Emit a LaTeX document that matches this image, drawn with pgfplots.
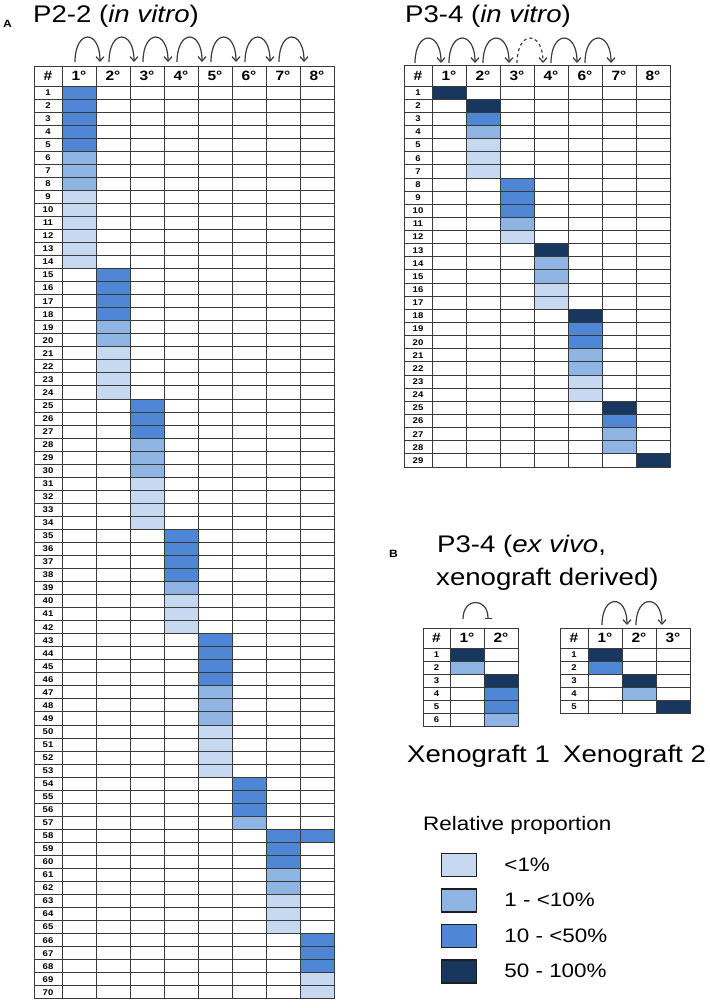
\documentclass[border=0pt]{standalone}
\usepackage{fontspec}
\setmainfont{Liberation Sans}[FakeStretch=1.15]
\usepackage{pgfplots}
\pgfplotsset{compat=1.18}
\usetikzlibrary{arrows.meta}
\definecolor{lvA}{HTML}{C6D9F1}
\definecolor{lvB}{HTML}{8DB4E2}
\definecolor{lvC}{HTML}{4F87D6}
\definecolor{lvD}{HTML}{17375E}
\definecolor{gridc}{HTML}{3A3A3A}
\definecolor{arcc}{HTML}{3C3C3C}
\definecolor{lgb}{HTML}{1E1E1E}
\newdimen\cellw \newdimen\cellh
\cellw=34pt \cellh=13.04pt
\pgfdeclareplotmark{cell}{%
  \pgfpathrectangle{\pgfpoint{-0.5\cellw}{-0.5\cellh}}{\pgfpoint{\cellw}{\cellh}}%
  \pgfusepathqfillstroke}
\pgfplotsset{
  tbl/.style={anchor=center, y dir=reverse, x=34pt, clip=false,
    axis line style={draw=gridc, line width=0.9pt},
    xtick={1,...,8}, xticklabels={{},{},{},{},{},{},{},{}},
    grid=minor, minor grid style={draw=gridc, line width=0.9pt},
    major tick length=0pt, minor tick length=0pt,
    /pgf/number format/assume math mode=true,
    yticklabel style={anchor=center, font=\bfseries\fontsize{8.3}{9}\selectfont, inner sep=0pt, text=black},
  },
  cell/.style={only marks, mark=cell, mark options={draw=gridc, line width=0.9pt, fill=#1}},
}
\tikzset{
  hdr/.style={font=\bfseries\fontsize{13.5}{14}\selectfont, inner sep=0pt},
  arcst/.style={draw=arcc, line width=1.2pt, -{Straight Barb[length=4.5pt,width=8pt]}},
  ttl/.style={anchor=base west, inner sep=0pt, font=\fontsize{24}{28}\selectfont},
}
\begin{document}
\begin{tikzpicture}
\path[use as bounding box] (0,0) rectangle (709pt,-1008pt);

% ---------- Left table: P2-2 (in vitro) ----------
\cellh=13.04pt
\begin{axis}[tbl, at={(184pt,-532.4pt)}, y=13.04pt,
  xmin=-0.3235, xmax=8.5, ymin=-1.034, ymax=70.5,
  ytick={1,...,70}, minor ytick={0.5,1.5,...,69.5}, minor xtick={0.5,1.5,...,7.5},
  yticklabel style={xshift=14pt}]
\addplot[cell=lvC] coordinates {(1,1)(1,2)(1,3)(1,4)(1,5) (2,15)(2,16)(2,17)(2,18) (3,25)(3,26)(3,27)
  (4,35)(4,36)(4,37)(4,38) (5,43)(5,44)(5,45)(5,46) (6,54)(6,55)(6,56) (7,58)(7,59)(7,60)
  (8,58)(8,66)(8,67)(8,68)};
\addplot[cell=lvB] coordinates {(1,6)(1,7)(1,8) (2,19)(2,20) (3,28)(3,29)(3,30) (4,39)
  (5,47)(5,48)(5,49) (6,57) (7,61)(7,62)};
\addplot[cell=lvA] coordinates {(1,9)(1,10)(1,11)(1,12)(1,13)(1,14) (2,21)(2,22)(2,23)(2,24)
  (3,31)(3,32)(3,33)(3,34) (4,40)(4,41)(4,42) (5,50)(5,51)(5,52)(5,53) (7,63)(7,64)(7,65)
  (8,69)(8,70)};
\node[hdr] at (axis cs:0.088,-0.267) {\#};
\node[hdr] at (axis cs:1,-0.267) {1°};
\node[hdr] at (axis cs:2,-0.267) {2°};
\node[hdr] at (axis cs:3,-0.267) {3°};
\node[hdr] at (axis cs:4,-0.267) {4°};
\node[hdr] at (axis cs:5,-0.267) {5°};
\node[hdr] at (axis cs:6,-0.267) {6°};
\node[hdr] at (axis cs:7,-0.267) {7°};
\node[hdr] at (axis cs:8,-0.267) {8°};
\end{axis}

% ---------- Right table: P3-4 (in vitro) ----------
\cellh=13.14pt
\begin{axis}[tbl, at={(537pt,-266pt)}, y=13.14pt,
  xmin=-0.3235, xmax=7.5, ymin=-1.098, ymax=29.5,
  ytick={1,...,29}, minor ytick={0.5,1.5,...,28.5}, minor xtick={0.5,1.5,...,6.5},
  xtick={1,...,7}, yticklabel style={xshift=14pt}]
\addplot[cell=lvD] coordinates {(1,1)(2,2)(4,13)(5,18)(6,25)(7,29)};
\addplot[cell=lvC] coordinates {(2,3)(3,8)(3,9)(3,10)(5,19)(5,20)(6,26)};
\addplot[cell=lvB] coordinates {(2,4)(3,11)(4,14)(4,15)(5,21)(5,22)(6,27)(6,28)};
\addplot[cell=lvA] coordinates {(2,5)(2,6)(2,7)(3,12)(4,16)(4,17)(5,23)(5,24)};
\node[hdr] at (axis cs:0.088,-0.299) {\#};
\node[hdr] at (axis cs:1,-0.299) {1°};
\node[hdr] at (axis cs:2,-0.299) {2°};
\node[hdr] at (axis cs:3,-0.299) {3°};
\node[hdr] at (axis cs:4,-0.299) {4°};
\node[hdr] at (axis cs:5,-0.299) {6°};
\node[hdr] at (axis cs:6,-0.299) {7°};
\node[hdr] at (axis cs:7,-0.299) {8°};
\end{axis}

% ---------- Xenograft 1 ----------
\cellh=13pt
\begin{axis}[tbl, at={(470.5pt,-677pt)}, y=13pt,
  xmin=-0.294, xmax=2.5, ymin=-1.038, ymax=6.5,
  ytick={1,...,6}, minor ytick={0.5,1.5,...,5.5}, minor xtick={0.5,1.5},
  xtick={1,2}, yticklabel style={xshift=13.5pt}]
\addplot[cell=lvD] coordinates {(1,1)(2,3)};
\addplot[cell=lvC] coordinates {(2,4)(2,5)};
\addplot[cell=lvB] coordinates {(1,2)(2,6)};
\node[hdr] at (axis cs:0.103,-0.269) {\#};
\node[hdr] at (axis cs:1,-0.269) {1°};
\node[hdr] at (axis cs:2,-0.269) {2°};
\end{axis}

% ---------- Xenograft 2 ----------
\begin{axis}[tbl, at={(625pt,-670.5pt)}, y=13pt,
  xmin=-0.3235, xmax=3.5, ymin=-1.038, ymax=5.5,
  ytick={1,...,5}, minor ytick={0.5,1.5,...,4.5}, minor xtick={0.5,1.5,2.5},
  xtick={1,2,3}, yticklabel style={xshift=14pt}]
\addplot[cell=lvD] coordinates {(1,1)(2,3)(3,5)};
\addplot[cell=lvC] coordinates {(1,2)};
\addplot[cell=lvB] coordinates {(2,4)};
\node[hdr] at (axis cs:0.088,-0.269) {\#};
\node[hdr] at (axis cs:1,-0.269) {1°};
\node[hdr] at (axis cs:2,-0.269) {2°};
\node[hdr] at (axis cs:3,-0.269) {3°};
\end{axis}

% ---------- Legend ----------
\begin{axis}[at={(441pt,-853pt)}, anchor=north west, hide axis, scale only axis,
  width=10pt, height=10pt, xmin=0, xmax=1, ymin=0, ymax=1,
  legend style={at={(0,1)}, anchor=north west, draw=none, fill=none, inner sep=0pt, outer sep=0pt,
    row sep=11pt, column sep=27pt, nodes={inner sep=0pt, outer sep=0pt},
    font=\fontsize{19.5}{22}\selectfont},
  legend cell align=left,
  legend image code/.code={\draw[#1] (0pt,-11.5pt) rectangle (35pt,11.5pt);}]
\addlegendimage{fill=lvA, draw=lgb, line width=1.4pt}
\addlegendentry{<1\%}
\addlegendimage{fill=lvB, draw=lgb, line width=1.4pt}
\addlegendentry{1 - <10\%}
\addlegendimage{fill=lvC, draw=lgb, line width=1.4pt}
\addlegendentry{10 - <50\%}
\addlegendimage{fill=lvD, draw=lgb, line width=1.4pt}
\addlegendentry{50 - 100\%}
\end{axis}

% ---------- Texts ----------
\node[anchor=base west, inner sep=0pt, font=\bfseries\fontsize{10.5}{11}\selectfont] at (3pt,-28pt) {A};
\node[anchor=base west, inner sep=0pt, font=\bfseries\fontsize{10.5}{11}\selectfont] at (389pt,-557pt) {B};
\node[ttl] at (33pt,-23pt) {P2-2 (\textit{in vitro})};
\node[ttl] at (405pt,-23pt) {P3-4 (\textit{in vitro})};
\node[ttl] at (437pt,-552pt) {P3-4 (\textit{ex vivo},};
\node[ttl] at (436pt,-585pt) {xenograft derived)};
\node[ttl] at (407pt,-762pt) {Xenograft 1};
\node[ttl] at (563pt,-762pt) {Xenograft 2};
\node[anchor=base west, inner sep=0pt, font=\fontsize{19.5}{22}\selectfont] at (423pt,-830pt) {Relative proportion};

% ---------- Passage arcs ----------
\foreach \i in {0,...,6} {
  \draw[arcst] ({75pt+34pt*\i},-62pt) .. controls ({75pt+34pt*\i},-29pt) and ({100pt+34pt*\i},-29pt) .. ({100pt+34pt*\i},-62pt);
}
\foreach \i in {0,1,2,4,5} {
  \draw[arcst] ({415pt+34pt*\i},-63pt) .. controls ({415pt+34pt*\i},-30pt) and ({441pt+34pt*\i},-30pt) .. ({441pt+34pt*\i},-63pt);
}
\draw[arcst, dashed] (517pt,-63pt) .. controls (517pt,-30pt) and (543pt,-30pt) .. (543pt,-63pt);
\draw[draw=arcc, line width=1.2pt, -{Bar[width=7pt]}] (463pt,-619pt) .. controls (463pt,-597pt) and (488pt,-597pt) .. (488pt,-619pt);
\draw[arcst] (602pt,-625pt) .. controls (602pt,-594pt) and (627pt,-594pt) .. (627pt,-625pt);
\draw[arcst] (636pt,-625pt) .. controls (636pt,-594pt) and (662pt,-594pt) .. (662pt,-625pt);
\end{tikzpicture}
\end{document}
